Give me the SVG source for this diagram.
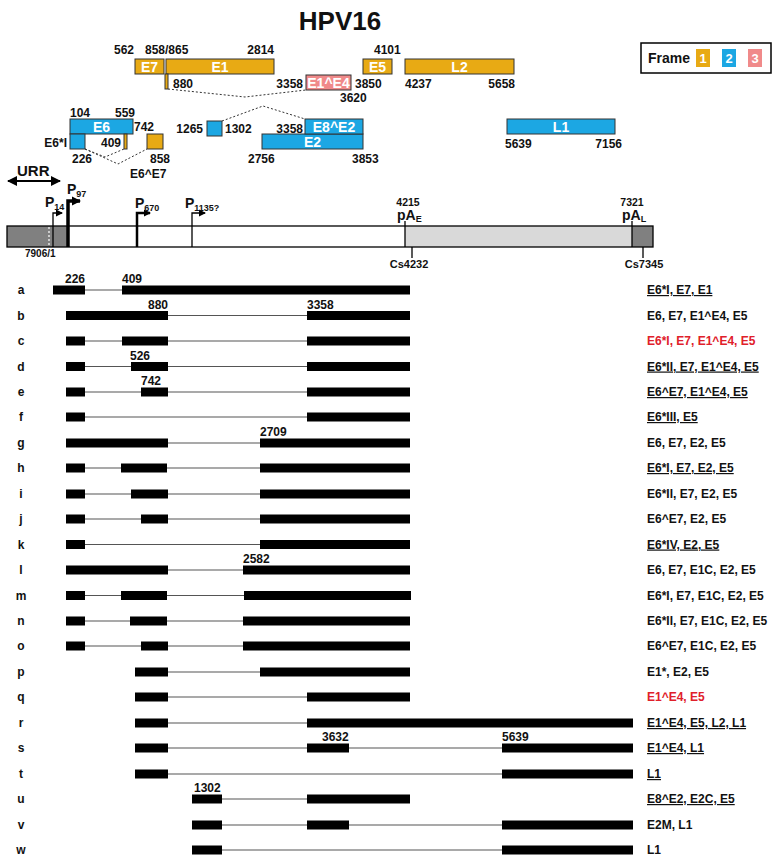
<svg xmlns="http://www.w3.org/2000/svg" width="780" height="862" viewBox="0 0 780 862">
<defs>
<style>
text{font-family:"Liberation Sans",Arial,sans-serif;font-weight:bold;fill:#111}
.orf{stroke:#333;stroke-width:1}
.o1{fill:#E8AA14}.o2{fill:#1CA7E3}.o3{fill:#F08A8A}
.bt{font-size:14px;fill:#fff;text-anchor:middle}
.n{font-size:12px}
.end{text-anchor:end}
.mid{text-anchor:middle}
.dot{fill:none;stroke:#333;stroke-width:1;stroke-dasharray:2 2}
.ex{fill:#000}
.in{stroke:#555;stroke-width:1.2}
.lt{font-size:12px;text-anchor:middle}
.rl{font-size:12px}
.u{text-decoration:underline}
.red{fill:#E0202A}
.sub{font-size:9px}
</style>
<marker id="ah" markerWidth="8" markerHeight="8" refX="6" refY="4" orient="auto" markerUnits="userSpaceOnUse">
<path d="M0,0.5 L7,4 L0,7.5 Z" fill="#000"/>
</marker>
<marker id="ah2" markerWidth="10" markerHeight="10" refX="8" refY="5" orient="auto" markerUnits="userSpaceOnUse">
<path d="M0,0.5 L9,5 L0,9.5 Z" fill="#000"/>
</marker>
<marker id="dh" markerWidth="10" markerHeight="10" refX="9" refY="5" orient="auto-start-reverse" markerUnits="userSpaceOnUse">
<path d="M0,0 L10,5 L0,10 Z" fill="#000"/>
</marker>
</defs>
<rect width="780" height="862" fill="#fff"/>
<text x="340" y="30" class="mid" style="font-size:26px">HPV16</text>

<!-- legend -->
<g id="legend">
<rect x="641" y="43" width="130" height="30" fill="#fff" stroke="#000" stroke-width="1.5"/>
<text x="648" y="63" style="font-size:14px">Frame</text>
<rect x="696" y="49" width="14" height="18" class="o1"/>
<rect x="722" y="49" width="14" height="18" class="o2"/>
<rect x="748" y="49" width="14" height="18" class="o3"/>
<text x="703" y="63" class="bt" style="font-size:13px">1</text>
<text x="729" y="63" class="bt" style="font-size:13px">2</text>
<text x="755" y="63" class="bt" style="font-size:13px">3</text>
</g>

<!-- ORFs -->
<g id="orf-E7"><rect x="135" y="59" width="29" height="15" class="orf o1"/><text x="149.5" y="71.5" class="bt">E7</text></g>
<g id="orf-E1"><rect x="166" y="59" width="108" height="15" class="orf o1"/><text x="220" y="71.5" class="bt">E1</text>
<rect x="165" y="74" width="3" height="15" class="orf o1"/></g>
<g id="orf-E1E4"><rect x="306" y="75" width="45" height="15" class="orf o3"/><text x="328.5" y="87.5" class="bt">E1^E4</text></g>
<g id="orf-E5"><rect x="363" y="59" width="29" height="15" class="orf o1"/><text x="377.5" y="71.5" class="bt">E5</text></g>
<g id="orf-L2"><rect x="405" y="59" width="109" height="15" class="orf o1"/><text x="459.5" y="71.5" class="bt">L2</text></g>
<g id="orf-E6"><rect x="70" y="119" width="63" height="15" class="orf o2"/><text x="101.5" y="131.5" class="bt">E6</text>
<rect x="70" y="134" width="15" height="15" class="orf o2"/></g>
<g id="orf-409"><rect x="124" y="134" width="3" height="15" class="orf o1"/></g>
<g id="orf-E6E7"><rect x="147" y="134" width="16" height="15" class="orf o1"/></g>
<g id="orf-1265"><rect x="207" y="121" width="15" height="15" class="orf o2"/></g>
<g id="orf-E2"><rect x="262" y="134" width="101" height="15" class="orf o2"/><text x="312.5" y="146.5" class="bt">E2</text></g>
<g id="orf-E8E2"><rect x="305" y="119" width="58" height="15" class="orf o2"/><text x="334" y="131.5" class="bt">E8^E2</text></g>
<g id="orf-L1"><rect x="507" y="119" width="108" height="15" class="orf o2"/><text x="561" y="131.5" class="bt">L1</text></g>

<g id="orf-labels" class="n">
<text x="134" y="54" class="n end">562</text>
<text x="145" y="54" class="n">858/865</text>
<text x="274" y="54" class="n end">2814</text>
<text x="173" y="88" class="n">880</text>
<text x="303" y="88" class="n end">3358</text>
<text x="355" y="88" class="n">3850</text>
<text x="340" y="102" class="n">3620</text>
<text x="374" y="54" class="n">4101</text>
<text x="405" y="88" class="n">4237</text>
<text x="515" y="88" class="n end">5658</text>
<text x="70" y="117" class="n">104</text>
<text x="135" y="117" class="n end">559</text>
<text x="134" y="131" class="n">742</text>
<text x="203" y="133" class="n end">1265</text>
<text x="225" y="133" class="n">1302</text>
<text x="303" y="133" class="n end">3358</text>
<text x="67" y="147" class="n end">E6*I</text>
<text x="121" y="147" class="n end">409</text>
<text x="72" y="163" class="n">226</text>
<text x="150" y="163" class="n">858</text>
<text x="248" y="163" class="n">2756</text>
<text x="352" y="163" class="n">3853</text>
<text x="130" y="178" class="n">E6^E7</text>
<text x="505" y="148" class="n">5639</text>
<text x="622" y="148" class="n end">7156</text>
</g>

<!-- splice dotted lines -->
<g id="splices">
<polyline points="168,89 245,97 306,90" class="dot"/>
<polyline points="222,121 263,106 305,119" class="dot"/>
<polyline points="85,149 105,157 124,149" class="dot"/>
<polyline points="85,149 118,164 147,149" class="dot"/>
</g>

<!-- genome -->
<g id="genome">
<text x="17" y="176" style="font-size:15px">URR</text>
<line x1="8" y1="181" x2="60" y2="181" stroke="#000" stroke-width="2" marker-start="url(#dh)" marker-end="url(#dh)"/>
<rect x="7" y="226" width="61" height="21" fill="#808080"/>
<rect x="68" y="226" width="337" height="21" fill="#fff"/>
<rect x="405" y="226" width="227" height="21" fill="#D9D9D9"/>
<rect x="632" y="226" width="21" height="21" fill="#808080"/>
<rect x="7" y="226" width="646" height="21" fill="none" stroke="#000" stroke-width="1.3"/>
<line x1="49" y1="227" x2="49" y2="246" stroke="#fff" stroke-width="1.2" stroke-dasharray="2 2"/>
<text x="25" y="257" style="font-size:10px">7906/1</text>
</g>
<g id="promoters">
<polyline points="53,247 53,213 62,213" fill="none" stroke="#000" stroke-width="1.3" marker-end="url(#ah)"/>
<text x="45" y="207" style="font-size:14px">P<tspan class="sub" dy="3">14</tspan></text>
<polyline points="68,247 68,201 80,201" fill="none" stroke="#000" stroke-width="3.5" marker-end="url(#ah2)"/>
<text x="67" y="194" style="font-size:14px">P<tspan class="sub" dy="3">97</tspan></text>
<polyline points="137,247 137,213 150,213" fill="none" stroke="#000" stroke-width="2.5" marker-end="url(#ah)"/>
<text x="135" y="208" style="font-size:14px">P<tspan class="sub" dy="3">670</tspan></text>
<polyline points="192,247 192,213 205,213" fill="none" stroke="#000" stroke-width="1.3" marker-end="url(#ah)"/>
<text x="185" y="208" style="font-size:14px">P<tspan class="sub" dy="3">1135?</tspan></text>
</g>
<g id="polyA">
<line x1="405" y1="221" x2="405" y2="247" stroke="#000" stroke-width="1.3"/>
<text x="408" y="206" class="mid" style="font-size:10.5px">4215</text>
<text x="397" y="220" style="font-size:14px">pA<tspan class="sub" dy="2">E</tspan></text>
<line x1="412" y1="247" x2="412" y2="258" stroke="#000" stroke-width="1.3"/>
<text x="409" y="268" class="mid" style="font-size:11px">Cs4232</text>
<line x1="632" y1="221" x2="632" y2="247" stroke="#000" stroke-width="1.3"/>
<text x="632" y="206" class="mid" style="font-size:10.5px">7321</text>
<text x="622" y="220" style="font-size:14px">pA<tspan class="sub" dy="2">L</tspan></text>
<line x1="643" y1="247" x2="643" y2="258" stroke="#000" stroke-width="1.3"/>
<text x="644" y="268" class="mid" style="font-size:11px">Cs7345</text>
</g>

<!-- transcripts -->
<g id="connectors">
<line x1="85" y1="290" x2="122" y2="290" class="in"/>
<line x1="168" y1="315.5" x2="307" y2="315.5" class="in"/>
<line x1="85" y1="341" x2="307" y2="341" class="in"/>
<line x1="85" y1="366.5" x2="307" y2="366.5" class="in"/>
<line x1="85" y1="392" x2="307" y2="392" class="in"/>
<line x1="85" y1="417" x2="307" y2="417" class="in"/>
<line x1="168" y1="443" x2="260" y2="443" class="in"/>
<line x1="85" y1="468" x2="260" y2="468" class="in"/>
<line x1="85" y1="494" x2="260" y2="494" class="in"/>
<line x1="85" y1="519" x2="260" y2="519" class="in"/>
<line x1="85" y1="544.5" x2="260" y2="544.5" class="in"/>
<line x1="168" y1="570" x2="243" y2="570" class="in"/>
<line x1="85" y1="595.5" x2="244" y2="595.5" class="in"/>
<line x1="85" y1="621" x2="243" y2="621" class="in"/>
<line x1="85" y1="646" x2="243" y2="646" class="in"/>
<line x1="168" y1="672" x2="260" y2="672" class="in"/>
<line x1="168" y1="697" x2="307" y2="697" class="in"/>
<line x1="168" y1="723" x2="307" y2="723" class="in"/>
<line x1="168" y1="748" x2="502" y2="748" class="in"/>
<line x1="168" y1="774" x2="502" y2="774" class="in"/>
<line x1="222" y1="799" x2="307" y2="799" class="in"/>
<line x1="222" y1="825" x2="502" y2="825" class="in"/>
<line x1="222" y1="850" x2="502" y2="850" class="in"/>
</g>

<g id="t-a"><text x="21" y="294" class="lt">a</text>
<rect x="53" y="285.5" width="32" height="9" class="ex"/><rect x="122" y="285.5" width="288" height="9" class="ex"/>
<text x="65" y="283" class="n">226</text><text x="122" y="283" class="n">409</text>
<text x="647" y="294" class="rl u">E6*I, E7, E1</text></g>
<g id="t-b"><text x="21" y="319.5" class="lt">b</text>
<rect x="66" y="311" width="102" height="9" class="ex"/><rect x="307" y="311" width="103" height="9" class="ex"/>
<text x="148" y="308.5" class="n">880</text><text x="307" y="308.5" class="n">3358</text>
<text x="647" y="319.5" class="rl">E6, E7, E1^E4, E5</text></g>
<g id="t-c"><text x="21" y="345" class="lt">c</text>
<rect x="66" y="336.5" width="19" height="9" class="ex"/><rect x="122" y="336.5" width="46" height="9" class="ex"/><rect x="307" y="336.5" width="103" height="9" class="ex"/>
<text x="647" y="345" class="rl red">E6*I, E7, E1^E4, E5</text></g>
<g id="t-d"><text x="21" y="370.5" class="lt">d</text>
<rect x="66" y="362" width="19" height="9" class="ex"/><rect x="131" y="362" width="37" height="9" class="ex"/><rect x="307" y="362" width="103" height="9" class="ex"/>
<text x="130" y="359.5" class="n">526</text>
<text x="647" y="370.5" class="rl u">E6*II, E7, E1^E4, E5</text></g>
<g id="t-e"><text x="21" y="396" class="lt">e</text>
<rect x="66" y="387.5" width="19" height="9" class="ex"/><rect x="141" y="387.5" width="27" height="9" class="ex"/><rect x="307" y="387.5" width="103" height="9" class="ex"/>
<text x="141" y="385" class="n">742</text>
<text x="647" y="396" class="rl u">E6^E7, E1^E4, E5</text></g>
<g id="t-f"><text x="21" y="421" class="lt">f</text>
<rect x="66" y="412.5" width="19" height="9" class="ex"/><rect x="307" y="412.5" width="103" height="9" class="ex"/>
<text x="647" y="421" class="rl u">E6*III, E5</text></g>
<g id="t-g"><text x="21" y="447" class="lt">g</text>
<rect x="66" y="438.5" width="102" height="9" class="ex"/><rect x="260" y="438.5" width="150" height="9" class="ex"/>
<text x="260" y="436" class="n">2709</text>
<text x="647" y="447" class="rl">E6, E7, E2, E5</text></g>
<g id="t-h"><text x="21" y="472" class="lt">h</text>
<rect x="66" y="463.5" width="19" height="9" class="ex"/><rect x="121" y="463.5" width="46" height="9" class="ex"/><rect x="260" y="463.5" width="150" height="9" class="ex"/>
<text x="647" y="472" class="rl u">E6*I, E7, E2, E5</text></g>
<g id="t-i"><text x="21" y="498" class="lt">i</text>
<rect x="66" y="489.5" width="19" height="9" class="ex"/><rect x="131" y="489.5" width="37" height="9" class="ex"/><rect x="260" y="489.5" width="150" height="9" class="ex"/>
<text x="647" y="498" class="rl">E6*II, E7, E2, E5</text></g>
<g id="t-j"><text x="21" y="523" class="lt">j</text>
<rect x="66" y="514.5" width="19" height="9" class="ex"/><rect x="141" y="514.5" width="27" height="9" class="ex"/><rect x="260" y="514.5" width="150" height="9" class="ex"/>
<text x="647" y="523" class="rl">E6^E7, E2, E5</text></g>
<g id="t-k"><text x="21" y="548.5" class="lt">k</text>
<rect x="66" y="540" width="19" height="9" class="ex"/><rect x="260" y="540" width="150" height="9" class="ex"/>
<text x="647" y="548.5" class="rl u">E6*IV, E2, E5</text></g>
<g id="t-l"><text x="21" y="574" class="lt">l</text>
<rect x="66" y="565.5" width="102" height="9" class="ex"/><rect x="243" y="565.5" width="167" height="9" class="ex"/>
<text x="243" y="563" class="n">2582</text>
<text x="647" y="574" class="rl">E6, E7, E1C, E2, E5</text></g>
<g id="t-m"><text x="21" y="599.5" class="lt">m</text>
<rect x="66" y="591" width="19" height="9" class="ex"/><rect x="121" y="591" width="46" height="9" class="ex"/><rect x="244" y="591" width="167" height="9" class="ex"/>
<text x="647" y="599.5" class="rl">E6*I, E7, E1C, E2, E5</text></g>
<g id="t-n"><text x="21" y="625" class="lt">n</text>
<rect x="66" y="616.5" width="19" height="9" class="ex"/><rect x="130" y="616.5" width="37" height="9" class="ex"/><rect x="243" y="616.5" width="167" height="9" class="ex"/>
<text x="647" y="625" class="rl">E6*II, E7, E1C, E2, E5</text></g>
<g id="t-o"><text x="21" y="650" class="lt">o</text>
<rect x="66" y="641.5" width="19" height="9" class="ex"/><rect x="141" y="641.5" width="27" height="9" class="ex"/><rect x="243" y="641.5" width="167" height="9" class="ex"/>
<text x="647" y="650" class="rl">E6^E7, E1C, E2, E5</text></g>
<g id="t-p"><text x="21" y="676" class="lt">p</text>
<rect x="135" y="667.5" width="33" height="9" class="ex"/><rect x="260" y="667.5" width="150" height="9" class="ex"/>
<text x="647" y="676" class="rl">E1*, E2, E5</text></g>
<g id="t-q"><text x="21" y="701" class="lt">q</text>
<rect x="135" y="692.5" width="33" height="9" class="ex"/><rect x="307" y="692.5" width="103" height="9" class="ex"/>
<text x="647" y="701" class="rl red">E1^E4, E5</text></g>
<g id="t-r"><text x="21" y="727" class="lt">r</text>
<rect x="135" y="718.5" width="33" height="9" class="ex"/><rect x="307" y="718.5" width="326" height="9" class="ex"/>
<text x="647" y="727" class="rl u">E1^E4, E5, L2, L1</text></g>
<g id="t-s"><text x="21" y="752" class="lt">s</text>
<rect x="135" y="743.5" width="33" height="9" class="ex"/><rect x="307" y="743.5" width="42" height="9" class="ex"/><rect x="502" y="743.5" width="131" height="9" class="ex"/>
<text x="322" y="741" class="n">3632</text><text x="502" y="741" class="n">5639</text>
<text x="647" y="752" class="rl u">E1^E4, L1</text></g>
<g id="t-t"><text x="21" y="778" class="lt">t</text>
<rect x="135" y="769.5" width="33" height="9" class="ex"/><rect x="502" y="769.5" width="131" height="9" class="ex"/>
<text x="647" y="778" class="rl u">L1</text></g>
<g id="t-u"><text x="21" y="803" class="lt">u</text>
<rect x="192" y="794.5" width="30" height="9" class="ex"/><rect x="307" y="794.5" width="103" height="9" class="ex"/>
<text x="194" y="792" class="n">1302</text>
<text x="647" y="803" class="rl u">E8^E2, E2C, E5</text></g>
<g id="t-v"><text x="21" y="829" class="lt">v</text>
<rect x="192" y="820.5" width="30" height="9" class="ex"/><rect x="307" y="820.5" width="42" height="9" class="ex"/><rect x="502" y="820.5" width="131" height="9" class="ex"/>
<text x="647" y="829" class="rl">E2M, L1</text></g>
<g id="t-w"><text x="21" y="854" class="lt">w</text>
<rect x="192" y="845.5" width="30" height="9" class="ex"/><rect x="502" y="845.5" width="131" height="9" class="ex"/>
<text x="647" y="854" class="rl">L1</text></g>
</svg>
